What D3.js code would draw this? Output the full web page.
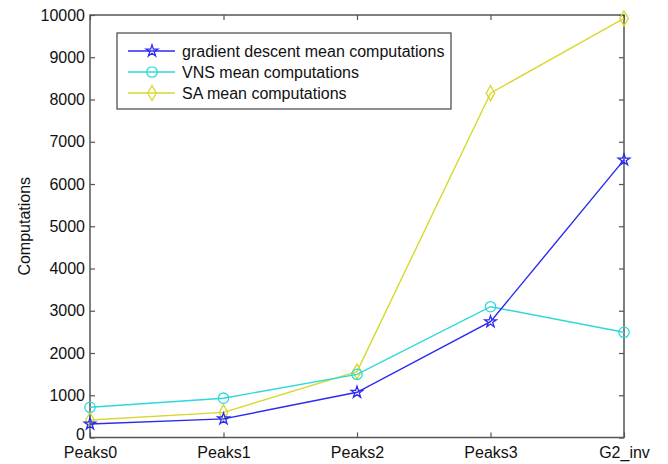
<!DOCTYPE html>
<html>
<head>
<meta charset="utf-8">
<script src="https://cdn.jsdelivr.net/npm/d3@7"></script>
<style>
  body { margin: 0; background: #fff; }
  text { font-family: "Liberation Sans", Arial, sans-serif; fill: #111; }
</style>
</head>
<body>
<svg id="canvas" width="668" height="464"></svg>
<script>
// chart data
let categories = ["Peaks0", "Peaks1", "Peaks2", "Peaks3", "G2_inv"];
let gdValues  = [320, 440, 1070, 2740, 6570];
let vnsValues = [715, 930, 1495, 3095, 2490];
let saValues  = [415, 595, 1560, 8150, 9920];
let yTicks = [0, 1000, 2000, 3000, 4000, 5000, 6000, 7000, 8000, 9000, 10000];

let seriesNames = ["gradient descent mean computations", "VNS mean computations", "SA mean computations"];
let seriesColors = ["#2b2bf0", "#2ed8d8", "#d8d82e"];
let seriesMarkers = ["star", "circle", "diamond"];

let canvas = d3.select('#canvas');

// plot box edges
let plotLeft = 90, plotRight = 624, plotTop = 15, plotBottom = 437.5;

let x = d3.scalePoint().domain(categories).range([plotLeft, plotRight]);
let y = d3.scaleLinear().domain([0, 10000]).range([plotBottom, plotTop]);

let axisColor = "#555";

// frame
canvas.append("rect")
    .attr("x", plotLeft).attr("y", plotTop)
    .attr("width", plotRight - plotLeft).attr("height", plotBottom - plotTop)
    .attr("fill", "none").attr("stroke", axisColor).attr("stroke-width", 1.5);

// y axis, ticks pointing inward
let yAxis = canvas.append("g")
    .attr("transform", `translate(${plotLeft},0)`)
    .call(d3.axisLeft(y).tickValues(yTicks).tickFormat(d3.format("d")).tickSize(-5).tickPadding(5));
yAxis.select(".domain").remove();
// the "0" label sits a little higher so it clears "Peaks0"
yAxis.selectAll(".tick text").filter(d => d === 0).attr("dy", "0.15em");

let yAxisR = canvas.append("g")
    .attr("transform", `translate(${plotRight},0)`)
    .call(d3.axisRight(y).tickValues(yTicks).tickSize(-5).tickFormat(""));
yAxisR.select(".domain").remove();

let xAxis = canvas.append("g")
    .attr("transform", `translate(0,${plotBottom})`)
    .call(d3.axisBottom(x).tickSize(-5).tickPadding(9));
xAxis.select(".domain").remove();

let xAxisT = canvas.append("g")
    .attr("transform", `translate(0,${plotTop})`)
    .call(d3.axisTop(x).tickSize(-5).tickFormat(""));
xAxisT.select(".domain").remove();

canvas.selectAll(".tick line").attr("stroke", axisColor).attr("stroke-width", 1.2);
canvas.selectAll(".tick text")
    .attr("font-size", 16)
    .attr("font-family", "Liberation Sans, Arial, sans-serif")
    .attr("fill", "#111");

// y label
canvas.append("text")
    .attr("transform", `translate(30,${(plotTop + plotBottom) / 2}) rotate(-90)`)
    .attr("text-anchor", "middle")
    .attr("font-size", 16)
    .text("Computations");

let markerPath = (type) => {
    if (type === "star") return d3.symbol().type(d3.symbolStar).size(42)();
    if (type === "circle") return d3.symbol().type(d3.symbolCircle).size(85)();
    return d3.symbol().type(d3.symbolDiamond).size(65)();
};

let allSeries = [gdValues, vnsValues, saValues];

let line = d3.line()
    .x((d, i) => x(categories[i]))
    .y(d => y(d));

// draw SA first so GD sits on top like the reference
[2, 1, 0].forEach(s => {
    canvas.append("path")
        .datum(allSeries[s])
        .attr("d", line)
        .attr("fill", "none")
        .attr("stroke", seriesColors[s])
        .attr("stroke-width", 1.4);

    canvas.selectAll(".m" + s)
        .data(allSeries[s])
        .enter()
        .append("path")
        .attr("class", "m" + s)
        .attr("d", markerPath(seriesMarkers[s]))
        .attr("transform", (d, i) => `translate(${x(categories[i])},${y(d)})`)
        .attr("fill", "none")
        .attr("stroke", seriesColors[s])
        .attr("stroke-width", 1.3);
});

// legend
let legend = canvas.append("g");
legend.append("rect")
    .attr("x", 117).attr("y", 33)
    .attr("width", 334).attr("height", 76)
    .attr("fill", "#fff").attr("stroke", "#444").attr("stroke-width", 1.2);

seriesNames.forEach((name, s) => {
    let ly = 51 + s * 21;
    legend.append("line")
        .attr("x1", 128).attr("x2", 175)
        .attr("y1", ly).attr("y2", ly)
        .attr("stroke", seriesColors[s]).attr("stroke-width", 1.4);
    legend.append("path")
        .attr("d", markerPath(seriesMarkers[s]))
        .attr("transform", `translate(152,${ly})`)
        .attr("fill", "none")
        .attr("stroke", seriesColors[s]).attr("stroke-width", 1.3);
    legend.append("text")
        .attr("x", 182).attr("y", ly + 5.5)
        .attr("font-size", 16)
        .text(name);
});
</script>
</body>
</html>
